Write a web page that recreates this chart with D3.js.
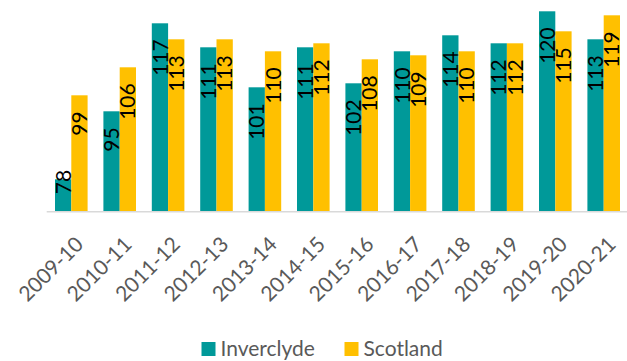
<!DOCTYPE html>
<html>
<head>
<meta charset="utf-8">
<script src="https://cdn.jsdelivr.net/npm/d3@7"></script>
<style>
  html, body { margin: 0; padding: 0; background: #fff; }
  svg { display: block; }
  text { font-family: Lato, "Open Sans", sans-serif; }
</style>
</head>
<body>
<svg id="chart" width="627" height="361"></svg>
<script>
// Years shown along the bottom
const categories = ["2009-10", "2010-11", "2011-12", "2012-13", "2013-14", "2014-15",
                    "2015-16", "2016-17", "2017-18", "2018-19", "2019-20", "2020-21"];
const seriesNames = ["Inverclyde", "Scotland"];
const inverclyde = [78, 95, 117, 111, 101, 111, 102, 110, 114, 112, 120, 113];
const scotland   = [99, 106, 113, 113, 110, 112, 108, 109, 110, 112, 115, 119];
const seriesColors = ["#009999", "#FFC000"];

const rows = categories.map((c, i) => ({ cat: c, values: [inverclyde[i], scotland[i]] }));

const svg = d3.select("#chart");
const baseY = 211.3;

const x0 = d3.scaleBand().domain(categories).range([47.1, 627.9]).padding(0);
const x1 = d3.scaleBand().domain(seriesNames).range([0, x0.bandwidth()])
  .paddingInner(0).paddingOuter(0.485);
const y = d3.scaleLinear().domain([70, 120]).range([baseY, 11.3]);
const color = d3.scaleOrdinal().domain(seriesNames).range(seriesColors);

// Bars
const groups = svg.append("g").selectAll("g").data(rows).join("g")
  .attr("transform", d => `translate(${x0(d.cat)},0)`);

groups.selectAll("rect")
  .data(d => d.values.map((v, k) => ({ name: seriesNames[k], v })))
  .join("rect")
  .attr("x", d => x1(d.name))
  .attr("width", x1.bandwidth())
  .attr("y", d => y(d.v))
  .attr("height", d => baseY - y(d.v))
  .attr("fill", d => color(d.name));

// Category axis line
svg.append("line")
  .attr("x1", 46.7).attr("x2", 627)
  .attr("y1", baseY + 0.5).attr("y2", baseY + 0.5)
  .attr("stroke", "#d9d9d9").attr("stroke-width", 1.5);

// Value labels, rotated inside the top of each bar
groups.selectAll("text.val")
  .data(d => d.values.map((v, k) => ({ name: seriesNames[k], v })))
  .join("text")
  .attr("class", "val")
  .attr("font-size", 21)
  .attr("fill", "#000")
  .attr("text-anchor", "end")
  .attr("dy", "0.36em")
  .text(d => d.v)
  .attr("transform", function (d) {
    const len = this.getComputedTextLength();
    const cx = x1(d.name) + x1.bandwidth() / 2;
    const yEnd = Math.min(y(d.v) + 16, baseY - 17 - len);
    return `translate(${cx},${yEnd}) rotate(-90)`;
  });

// Category labels at 45 degrees
svg.append("g").selectAll("text").data(categories).join("text")
  .attr("font-size", 21)
  .attr("fill", "#595959")
  .attr("text-anchor", "end")
  .attr("dy", "0.36em")
  .attr("transform", d => `translate(${x0(d) + x0.bandwidth() / 2 + 8},${baseY + 29}) rotate(-45)`)
  .text(d => d);

// Legend
const legendX = [201.5, 344.5];
const legend = svg.append("g").selectAll("g").data(seriesNames).join("g")
  .attr("transform", (d, i) => `translate(${legendX[i]},342)`);
legend.append("rect").attr("width", 14).attr("height", 14).attr("fill", d => color(d));
legend.append("text").attr("x", 19).attr("y", 13.5)
  .attr("font-size", 21).attr("fill", "#595959").text(d => d);
</script>
</body>
</html>
